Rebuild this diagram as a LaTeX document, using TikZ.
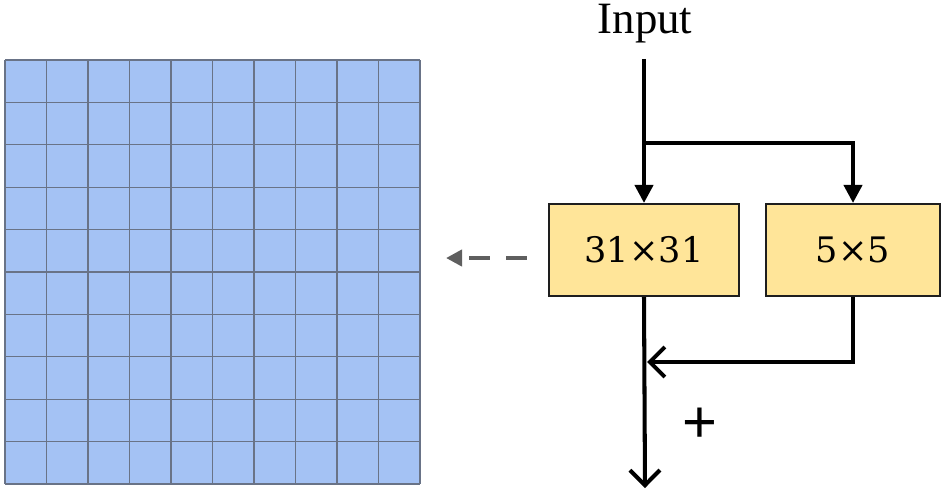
\documentclass[tikz,border=0pt]{standalone}
\usepackage{fontspec}
\setmainfont{Liberation Serif}
\setsansfont{Liberation Sans}
\newfontfamily\kfont{DejaVu Serif}
\usepackage{tikz}
\usetikzlibrary{arrows.meta, positioning, calc}
\definecolor{gridblue}{RGB}{164,194,244}
\definecolor{gridline}{RGB}{105,115,135}
\definecolor{kfill}{RGB}{255,229,153}
\definecolor{kdraw}{RGB}{30,30,30}
\definecolor{dashgray}{RGB}{95,95,95}
\tikzset{
  kernel/.style={rectangle, draw=kdraw, fill=kfill, line width=1.2pt,
    minimum height=1.84cm, font=\kfont\fontsize{20}{24}\selectfont},
  inarrow/.style={-{Triangle[length=0.36cm, width=0.36cm]}, line width=2.3pt, color=black},
  outarrow/.style={-{Straight Barb[length=0.3cm, width=0.6cm, line width=2.3pt]}, line width=2.3pt, color=black},
  guide/.style={-{Triangle[length=0.32cm, width=0.32cm]}, line width=2.6pt, color=dashgray,
    dash pattern=on 0.42cm off 0.32cm},
  cellline/.style={gridline, line width=0.7pt}
}
\begin{document}
\begin{tikzpicture}[x=0.02cm, y=-0.02cm]
  \useasboundingbox (0,0) rectangle (942,491);
  % large kernel grid
  \fill[gridblue] (5,60) rectangle (420,484);
  \foreach \i in {0,...,10} {
    \draw[cellline] ({5+41.5*\i},60) -- ({5+41.5*\i},484);
    \draw[cellline] (5,{60+42.4*\i}) -- (420,{60+42.4*\i});
  }
  % branches
  \node[font=\fontsize{25.5}{28}\selectfont, inner sep=0pt] (input) at (645,24) {Input};
  \node[kernel, minimum width=3.8cm] (k31) at (644,250) {31×31};
  \node[kernel, minimum width=3.48cm] (k5) at (853,250) {5×5};
  \coordinate (split) at (645,143);
  \coordinate (merge) at (647,362);
  \coordinate (out) at (645,488);
  \coordinate (gridend) at (446,258);
  \node[font=\sffamily\fontsize{34}{36}\selectfont] (plus) at (700,425) {+};
  % connectors
  \draw[inarrow, shorten <=0.3cm] (input.south -| k31.north) -- (k31.north);
  \draw[inarrow] (split) -| (k5.north);
  \draw[outarrow] (k31.south) -- (out);
  \draw[outarrow] (k5.south) |- (merge);
  \draw[guide, shorten <=0.42cm] (k31.west |- gridend) -- (gridend);
\end{tikzpicture}
\end{document}
